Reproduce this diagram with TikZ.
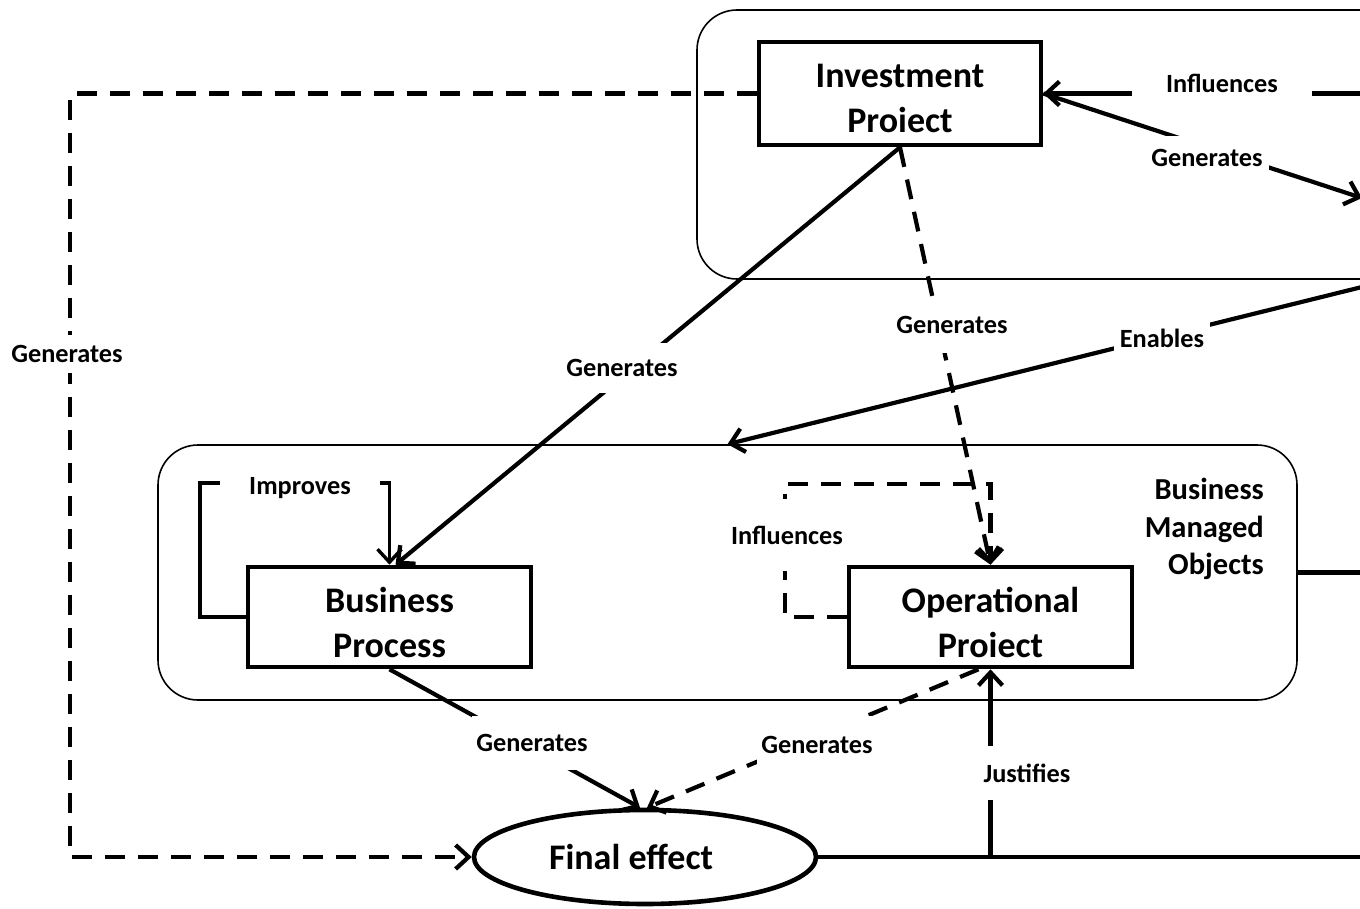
\documentclass[tikz,border=0pt]{standalone}
\usepackage{fontspec}
\setmainfont{Carlito}
\usetikzlibrary{arrows.meta,shapes.geometric}
\newcommand\bigfnt{\fontsize{36}{45}\selectfont\bfseries}
\newcommand\lblfnt{\fontsize{26.3}{32}\selectfont\bfseries}
\newcommand\bmofnt{\fontsize{30.5}{37.5}\selectfont\bfseries}
\begin{document}
\begin{tikzpicture}[x=1pt,y=-1pt,
  container/.style={draw, line width=1.6pt, rounded corners=40pt, inner sep=0pt},
  box/.style={draw, line width=4.6pt, fill=white, align=center, font=\bigfnt, inner sep=0pt},
  lbl/.style={fill=white, font=\lblfnt, inner xsep=4pt, inner ysep=14pt},
  plainline/.style={line width=4.2pt},
  conn/.style={plainline, -{Straight Barb[length=13pt,width=24pt]}},
  dconn/.style={conn, dash pattern=on 20pt off 13pt},
  dline/.style={plainline, dash pattern=on 20pt off 13pt}]
\useasboundingbox (0,0) rectangle (1360,909);
\clip (0,0) rectangle (1360,909);

% containers
\node[container, minimum width=723pt, minimum height=269pt] (top) at (1058.5,144.5) {};
\node[container, minimum width=1139pt, minimum height=255pt] (bmo) at (727.5,572.5) {};
\node[font=\bmofnt, align=right, inner sep=0pt, anchor=east] (bmolbl) at (1264,529) {Business\\Managed\\Objects};

% main nodes
\node[box, minimum width=282pt, minimum height=103pt] (ip) at (900,93.5) {\rule{0pt}{34pt}Investment\\Proiect};
\node[box, minimum width=283pt, minimum height=100pt] (bp) at (389.5,617) {\rule{0pt}{36pt}Business\\Process};
\node[box, minimum width=283pt, minimum height=100pt] (op) at (990.5,617) {\rule{0pt}{36pt}Operational\\Proiect};
\node[ellipse, draw, line width=4.6pt, fill=white, minimum width=342pt, minimum height=94pt, inner sep=0pt, font=\bigfnt] (fe) at (645,857) {Final effect\hspace*{28pt}};

% connectors
\draw[dconn] (ip.west) -| (70,857) -- (fe.west);
\draw[conn] (1400,93.5) -- (ip.east);
\draw[conn] (ip.east) -- (1362,198);
\draw[conn] (1362,287) -- (bmo.north);
\draw[conn] (ip.south) -- ([xshift=6pt]bp.north);
\draw[dconn] (ip.south) -- (op.north);
\draw[dconn] (op.west) -- (785,617) -- (785,484) -- (990.5,484) -- (op.north);
\draw[conn, line width=3.4pt] (bp.west) -- (200,617) -- (200,483) -- (389.5,483) -- (bp.north);
\draw[conn] (bp.south) -- ([xshift=-5pt]fe.north);
\draw[dconn] ([xshift=-12pt]op.south) -- ([xshift=2pt]fe.north);
\coordinate (j) at (990.5,857);
\draw[plainline] (fe.east) -- (1400,857);
\draw[conn] (j) -- (op.south);
\draw[plainline] (bmo.east) -- (1400,572.5);

% labels
\node[lbl, inner ysep=10pt] (l1) at (67,354) {Generates};
\node[lbl, inner xsep=34pt, inner ysep=8pt] (l2) at (1222,83) {Influences};
\node[lbl, inner xsep=6pt, inner ysep=13pt] (l3) at (1207,158) {Generates};
\node[lbl, inner xsep=6pt, inner ysep=13pt] (l4) at (1162,338) {Enables};
\node[lbl, inner ysep=16pt] (l5) at (622,368) {Generates};
\node[lbl, inner ysep=19pt] (l6) at (952,325) {Generates};
\node[lbl, inner xsep=29pt, inner ysep=6pt] (l7) at (300,488) {Improves};
\node[lbl, inner ysep=27pt] (l8) at (787,535) {Influences};
\node[lbl, inner ysep=18pt] (l9) at (1027,773) {Justifies};
\node[lbl, inner ysep=18pt] (l10) at (532,743) {Generates};
\node[lbl, inner ysep=20pt] (l11) at (817,745) {Generates};
\end{tikzpicture}
\end{document}
